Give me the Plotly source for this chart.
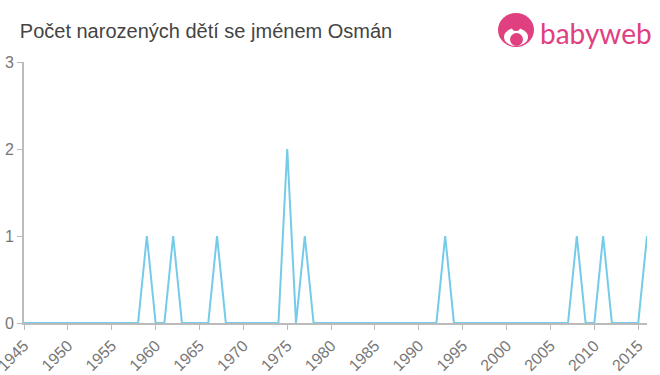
import plotly.graph_objects as go

years = list(range(1945, 2017))
peak_years = [1959, 1962, 1967, 1975, 1977, 1993, 2008, 2011, 2016]
peak_values = [1, 1, 1, 2, 1, 1, 1, 1, 1]
counts = [peak_values[peak_years.index(y)] if y in peak_years else 0 for y in years]

tick_vals = list(range(1945, 2020, 5))
tick_text = [str(v) for v in tick_vals]

L, R, T, B = 24, 13, 62, 52
W, H = 660, 375
PW, PH = W - L - R, H - T - B


def px(x):
    return (x - L) / PW


def py(y):
    return (H - B - y) / PH


fig = go.Figure()
fig.add_trace(go.Scatter(x=years, y=counts, mode="lines",
                         line=dict(color="#74cbea", width=2), hoverinfo="x+y"))

fig.update_layout(
    width=W, height=H,
    margin=dict(l=L, r=R, t=T, b=B, autoexpand=False),
    paper_bgcolor="white", plot_bgcolor="white",
    showlegend=False,
    font=dict(family="Liberation Sans, Arial, sans-serif", color="#777777"),
    title=dict(text="Počet narozených dětí se jménem Osmán", x=0.03, xanchor="left",
               y=0.918, yanchor="middle",
               font=dict(size=20, color="#444444")),
    xaxis=dict(range=[1945, 2016], tickvals=tick_vals, ticktext=tick_text,
               tickangle=-45, ticks="outside", ticklen=5, tickcolor="#bbbbbb",
               showline=True, linecolor="#bbbbbb", linewidth=2, showgrid=False,
               zeroline=False, automargin=False, ticklabeloverflow="allow",
               tickfont=dict(size=16, color="#777777")),
    yaxis=dict(range=[0, 3], tickvals=[0, 1, 2, 3], ticks="outside", ticklen=5,
               tickcolor="#bbbbbb", showline=True, linecolor="#bbbbbb", linewidth=2,
               showgrid=False, zeroline=False, automargin=False,
               ticklabeloverflow="allow",
               tickfont=dict(size=16, color="#777777")),
)

# logo
pink = "#e0407f"
fig.add_shape(type="circle", xref="paper", yref="paper",
              x0=px(498), x1=px(534), y0=py(47), y1=py(13),
              fillcolor=pink, line=dict(width=0), layer="above")
fig.add_shape(type="circle", xref="paper", yref="paper",
              x0=px(504), x1=px(528), y0=py(46), y1=py(28),
              fillcolor="white", line=dict(width=0), layer="above")
fig.add_shape(type="circle", xref="paper", yref="paper",
              x0=px(510), x1=px(523), y0=py(46), y1=py(33),
              fillcolor=pink, line=dict(width=0), layer="above")
fig.add_shape(type="circle", xref="paper", yref="paper",
              x0=px(512), x1=px(520), y0=py(31), y1=py(24),
              fillcolor=pink, line=dict(width=0), layer="above")
fig.add_annotation(text="babyweb", xref="paper", yref="paper",
                   x=px(538), y=py(33), xanchor="left", yanchor="middle",
                   showarrow=False, font=dict(size=28, color=pink,
                                              family="Lato, Arial, sans-serif"))

fig.write_html("out.html")
